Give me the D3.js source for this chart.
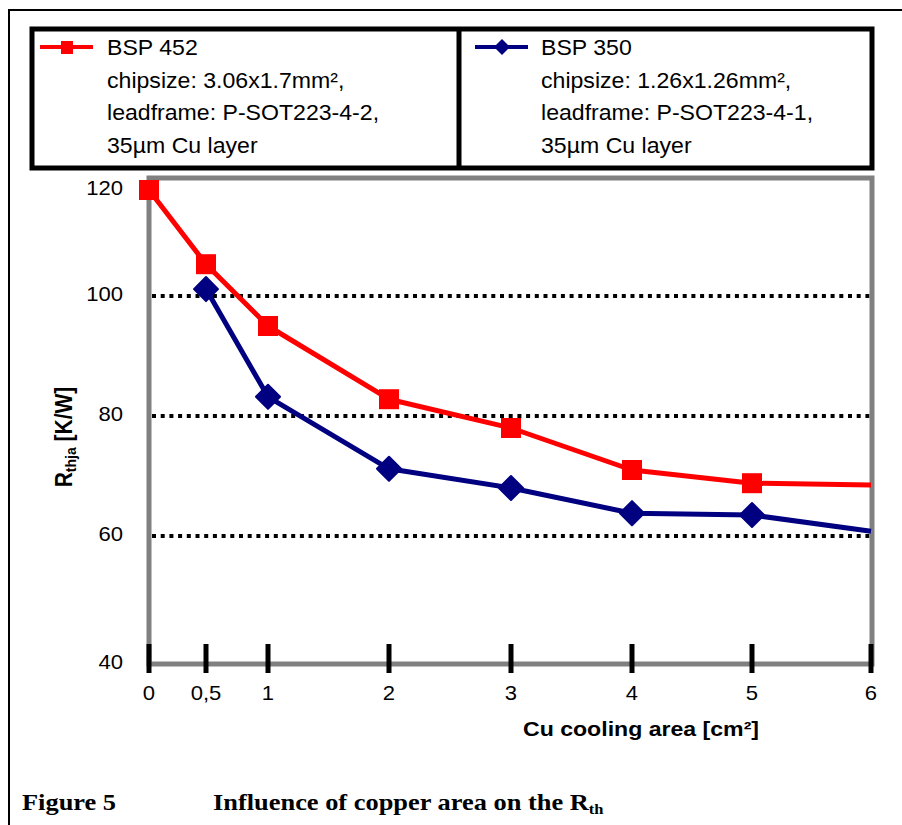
<!DOCTYPE html>
<html><head><meta charset="utf-8">
<script src="https://cdn.jsdelivr.net/npm/d3@7"></script>
<style>html,body{margin:0;padding:0;background:#fff;}svg{display:block;}</style>
</head><body>
<script>
// ---- data ----
const xCategories = [0, 0.5, 1, 2, 3, 4, 5, 6];
const xTickLabels = ["0", "0,5", "1", "2", "3", "4", "5", "6"];
const yTickValues = [40, 60, 80, 100, 120];
const gridValues = [60, 80, 100];
const bsp452X = [0, 0.5, 1, 2, 3, 4, 5, 6];
const bsp452Y = [120, 106, 95, 82.8, 78, 71, 68.8, 68.5];
const bsp350X = [0.5, 1, 2, 3, 4, 5, 6];
const bsp350Y = [101.3, 83.2, 71.2, 68, 63.8, 63.5, 60.8];
const legend452 = ["BSP 452", "chipsize: 3.06x1.7mm²,", "leadframe: P-SOT223-4-2,", "35µm Cu layer"];
const legend350 = ["BSP 350", "chipsize: 1.26x1.26mm²,", "leadframe: P-SOT223-4-1,", "35µm Cu layer"];

const W = 902, H = 825, SX = 1.05;
const svg = d3.select("body").append("svg").attr("width", W).attr("height", H);

// scales (the original picture is slightly non-uniform, so piecewise)
const x = d3.scaleLinear().domain(xCategories).range([149, 206, 268, 389, 511, 632, 752, 871]);
const y = d3.scaleLinear().domain(yTickValues).range([664, 536, 416, 296, 190]);

function txt(g, px, py, s, o) {
  o = o || {};
  const t = g.append("text")
    .attr("transform", `translate(${px},${py}) scale(${o.sx || SX},1)` + (o.rot ? ` rotate(${o.rot})` : ""))
    .attr("font-family", o.family || "'Liberation Sans', Arial, sans-serif")
    .attr("font-size", o.size || 22)
    .attr("font-weight", o.weight || "normal")
    .attr("text-anchor", o.anchor || "start")
    .attr("fill", "#000");
  if (s !== null) t.text(s);
  return t;
}

// outer thin frame
svg.append("path").attr("d", `M9,${H} V10 H${W}`).attr("fill", "none").attr("stroke", "#000").attr("stroke-width", 2);

// legend box
const lg = svg.append("g");
lg.append("rect").attr("x", 32).attr("y", 29).attr("width", 840).attr("height", 139)
  .attr("fill", "#fff").attr("stroke", "#000").attr("stroke-width", 5);
lg.append("line").attr("x1", 459).attr("x2", 459).attr("y1", 29).attr("y2", 168).attr("stroke", "#000").attr("stroke-width", 5);
const baselines = [55, 88, 120, 153];
// red sample
lg.append("line").attr("x1", 40).attr("x2", 93).attr("y1", 47).attr("y2", 47).attr("stroke", "#ff0000").attr("stroke-width", 4);
lg.append("rect").attr("x", 61).attr("y", 41).attr("width", 12).attr("height", 13).attr("fill", "#ff0000");
legend452.forEach((s, i) => txt(lg, 107, baselines[i], s));
// blue sample
lg.append("line").attr("x1", 475).attr("x2", 528).attr("y1", 47).attr("y2", 47).attr("stroke", "#000080").attr("stroke-width", 4);
lg.append("path").attr("d", "M502,39 L510,47 L502,55 L494,47 Z").attr("fill", "#000080");
legend350.forEach((s, i) => txt(lg, 541, baselines[i], s));

// gridlines
const gg = svg.append("g");
gg.selectAll("line").data(gridValues).join("line")
  .attr("x1", x(0) + 3).attr("x2", x(6)).attr("y1", d => y(d)).attr("y2", d => y(d))
  .attr("stroke", "#000").attr("stroke-width", 4).attr("stroke-dasharray", "4,4.7");

// plot frame
svg.append("rect").attr("x", x(0)).attr("y", 178).attr("width", x(6) + 1 - x(0)).attr("height", y(40) - 178)
  .attr("fill", "none").attr("stroke", "#808080").attr("stroke-width", 5);

// x ticks
const xt = svg.append("g");
xt.selectAll("line").data(xCategories).join("line")
  .attr("x1", d => x(d)).attr("x2", d => x(d)).attr("y1", 644).attr("y2", 673)
  .attr("stroke", "#000").attr("stroke-width", 5);
xCategories.forEach((d, i) => txt(xt, x(d), 700, xTickLabels[i], {anchor: "middle", size: 21}));

// y tick labels
yTickValues.forEach(v => txt(svg, 123, y(v) + 5, String(v), {anchor: "end", size: 21}));

// axis titles
txt(svg, 641, 736, "Cu cooling area [cm²]", {anchor: "middle", size: 21, weight: "bold", sx: 1.1});
const ytitle = txt(svg, 72, 437, null, {anchor: "middle", size: 21, weight: "bold", rot: -90, sx: 1.1});
ytitle.append("tspan").text("R");
ytitle.append("tspan").attr("font-size", 14).attr("dy", 4).text("thja");
ytitle.append("tspan").attr("dy", -4).text(" [K/W]");

// series
const line = d3.line().x(d => x(d[0])).y(d => y(d[1]));
const d452 = bsp452X.map((v, i) => [v, bsp452Y[i]]);
const d350 = bsp350X.map((v, i) => [v, bsp350Y[i]]);
svg.append("path").datum(d452).attr("d", line).attr("fill", "none").attr("stroke", "#ff0000").attr("stroke-width", 5).attr("stroke-linejoin", "round");
svg.append("path").datum(d350).attr("d", line).attr("fill", "none").attr("stroke", "#000080").attr("stroke-width", 5).attr("stroke-linejoin", "round");

const sq = d3.symbol().type(d3.symbolSquare).size(400);
svg.append("g").selectAll("path").data(d452.filter(d => d[0] < 6)).join("path")
  .attr("transform", d => `translate(${x(d[0])},${y(d[1])})`).attr("d", sq).attr("fill", "#ff0000");
const diamond = { draw(ctx, size) { const r = Math.sqrt(size / 2); ctx.moveTo(0, -r); ctx.lineTo(r, 0); ctx.lineTo(0, r); ctx.lineTo(-r, 0); ctx.closePath(); } };
const dm = d3.symbol().type(diamond).size(290);
svg.append("g").selectAll("path").data(d350.filter(d => d[0] < 6)).join("path")
  .attr("transform", d => `translate(${x(d[0])},${y(d[1])})`).attr("d", dm).attr("fill", "#000080")
  .attr("stroke", "#000080").attr("stroke-width", 2).attr("stroke-linejoin", "round");

// caption
const cap = svg.append("g");
txt(cap, 22, 810, "Figure 5", {family: "'Liberation Serif', 'Times New Roman', serif", size: 24, weight: "bold", sx: 1.1});
const c2 = txt(cap, 213, 810, null, {family: "'Liberation Serif', 'Times New Roman', serif", size: 24, weight: "bold", sx: 1.1});
c2.append("tspan").text("Influence of copper area on the R");
c2.append("tspan").attr("font-size", 15).attr("dy", 4).text("th");
</script>
</body></html>
